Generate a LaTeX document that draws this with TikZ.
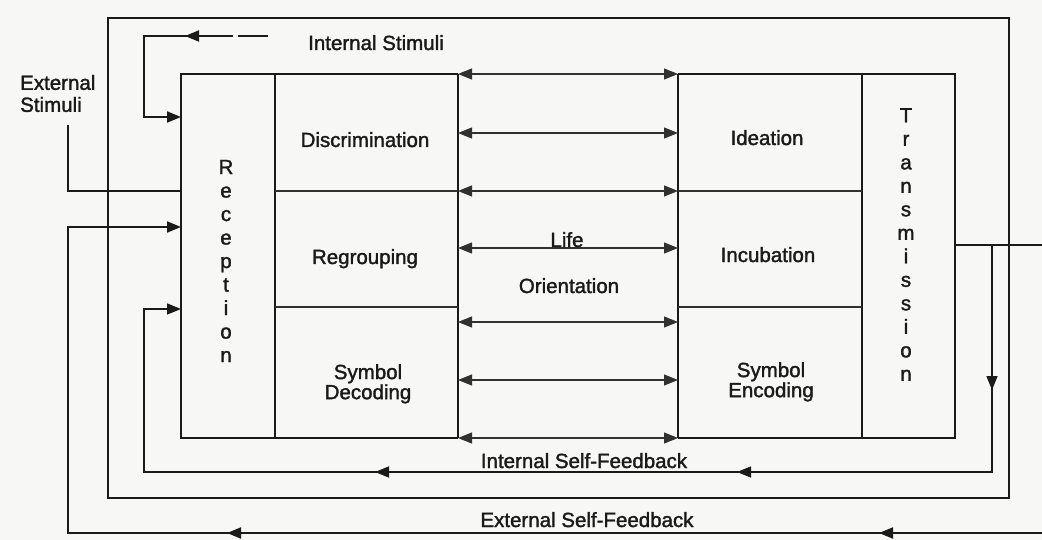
\documentclass[tikz,border=0pt]{standalone}
\usepackage{fontspec}
\setmainfont{Liberation Sans}
\newfontfamily\lblfont{Liberation Sans}[FakeBold=1.6]
\usetikzlibrary{arrows.meta}
\definecolor{ink}{HTML}{1A1A1A}
\definecolor{paper}{HTML}{F7F7F5}
\begin{document}
\begin{tikzpicture}[x=1pt,y=-1pt,
  frame/.style={draw=ink,line width=1.9pt},
  fb/.style={draw=ink,line width=1.5pt},
  thinline/.style={draw=ink!90,line width=1.1pt},
  tip/.style={-{Triangle[length=14pt,width=11pt]}},
  bi/.style={thinline,{Triangle[length=14pt,width=11pt]}-{Triangle[length=14pt,width=11pt]}},
  lbl/.style={text=ink,font=\lblfont\fontsize{20.5}{18}\selectfont,inner sep=0pt,align=center},
  stack/.style={text=ink,font=\lblfont\fontsize{20.5}{23.5}\selectfont,inner sep=0pt,align=center}
]
\fill[paper] (0,0) rectangle (1042,540);
\useasboundingbox (0,0) rectangle (1042,540);

% ---- main box corners and column lines
\coordinate (mTL) at (181,74);  \coordinate (mBL) at (181,438);
\coordinate (rect) at (275,74); \coordinate (recb) at (275,438);
\coordinate (lolt) at (458,74); \coordinate (lolb) at (458,438);
\coordinate (lort) at (678,74); \coordinate (lorb) at (678,438);
\coordinate (trt) at (862,74);  \coordinate (trb) at (862,438);
\coordinate (mTR) at (955,74);  \coordinate (mBR) at (955,438);

\draw[frame] (lolt) -- (mTL) -- (mBL) -- (lolb);
\draw[frame] (lort) -- (mTR) -- (mBR) -- (lorb);
\draw[frame] (rect) -- (recb);
\draw[frame] (lolt) -- (lolb);
\draw[frame] (lort) -- (lorb);
\draw[frame] (trt) -- (trb);

% ---- row dividers
\coordinate (d1a) at (275,191); \coordinate (d1b) at (458,191);
\coordinate (d1c) at (678,191); \coordinate (d1d) at (862,191);
\coordinate (d2a) at (275,307); \coordinate (d2b) at (458,307);
\coordinate (d2c) at (678,307); \coordinate (d2d) at (862,307);
\draw[thinline] (d1a) -- (d1b);
\draw[thinline] (d1c) -- (d1d);
\draw[thinline] (d2a) -- (d2b);
\draw[thinline] (d2c) -- (d2d);

% ---- two-way arrows in the Life Orientation column
\foreach \yy [count=\i] in {74,133,191,248,322,380,438}{
  \coordinate (la\i) at (458,\yy);
  \coordinate (ra\i) at (678,\yy);
  \draw[bi] (la\i) -- (ra\i);
}

% ---- outer rectangle
\coordinate (oTL) at (108,18); \coordinate (oBR) at (1009,498);
\draw[frame] (oTL) rectangle (oBR);

% ---- external stimuli
\node[lbl,anchor=west,align=left,font=\lblfont\fontsize{20.5}{22}\selectfont] (extS) at (20,93.5) {External\\Stimuli};
\coordinate (es0) at (68,125); \coordinate (es1) at (68,191); \coordinate (es2) at (181,191);
\draw[frame] (es0) -- (es1) -- (es2);

% ---- internal stimuli
\node[lbl,anchor=base] (intS) at (376,50) {Internal Stimuli};
\coordinate (is0) at (268,36); \coordinate (is1) at (238,36);
\coordinate (is2) at (233,36); \coordinate (is3) at (144,36);
\coordinate (is4) at (144,117); \coordinate (is5) at (181,117);
\coordinate (isa) at (185,36);
\draw[frame] (is0) -- (is1);
\draw[frame,tip] (is2) -- (is3) -- (is4) -- (is5);
\draw[frame,tip] (is2) -- (isa);

% ---- internal self-feedback
\coordinate (if0) at (955,245); \coordinate (if1) at (992,245); \coordinate (xr) at (1042,245);
\coordinate (if2) at (992,472); \coordinate (if3) at (144,472);
\coordinate (if4) at (144,309); \coordinate (if5) at (181,309);
\draw[frame] (if0) -- (xr);
\draw[fb,tip] (if1) -- (if2) -- (if3) -- (if4) -- (if5);
\coordinate (ifa0) at (992,370); \coordinate (ifa1) at (992,390);
\coordinate (ifb0) at (760,472); \coordinate (ifb1) at (737,472);
\coordinate (ifc0) at (400,472); \coordinate (ifc1) at (375,472);
\draw[fb,tip] (ifa0) -- (ifa1);
\draw[fb,tip] (ifb0) -- (ifb1);
\draw[fb,tip] (ifc0) -- (ifc1);
\node[lbl,anchor=base] (isf) at (584,468) {Internal Self-Feedback};

% ---- external self-feedback
\coordinate (xb) at (1042,533); \coordinate (ef1) at (68,533);
\coordinate (ef2) at (68,227); \coordinate (ef3) at (181,227);
\draw[frame,tip] (xb) -- (ef1) -- (ef2) -- (ef3);
\coordinate (efa0) at (900,533); \coordinate (efa1) at (879,533);
\coordinate (efb0) at (250,533); \coordinate (efb1) at (227,533);
\draw[frame,tip] (efa0) -- (efa1);
\draw[frame,tip] (efb0) -- (efb1);
\node[lbl,anchor=base] (esf) at (587,527) {External Self-Feedback};

% ---- cell labels
\node[stack] (rec) at (226,261) {R\\e\\c\\e\\p\\t\\i\\o\\n};
\node[stack] (tra) at (906,244.5) {T\\r\\a\\n\\s\\m\\i\\s\\s\\i\\o\\n};
\node[lbl,anchor=base] (dis) at (365,147) {Discrimination};
\node[lbl,anchor=base] (reg) at (365,264) {Regrouping};
\node[lbl,anchor=north] (sdec) at (368,364) {Symbol\\Decoding};
\node[lbl,anchor=base] (life) at (567,247) {Life};
\node[lbl,anchor=base] (ori) at (569,293) {Orientation};
\node[lbl,anchor=base] (ide) at (767,145) {Ideation};
\node[lbl,anchor=base] (inc) at (768,262) {Incubation};
\node[lbl,anchor=north] (senc) at (771,362) {Symbol\\Encoding};
\end{tikzpicture}
\end{document}
